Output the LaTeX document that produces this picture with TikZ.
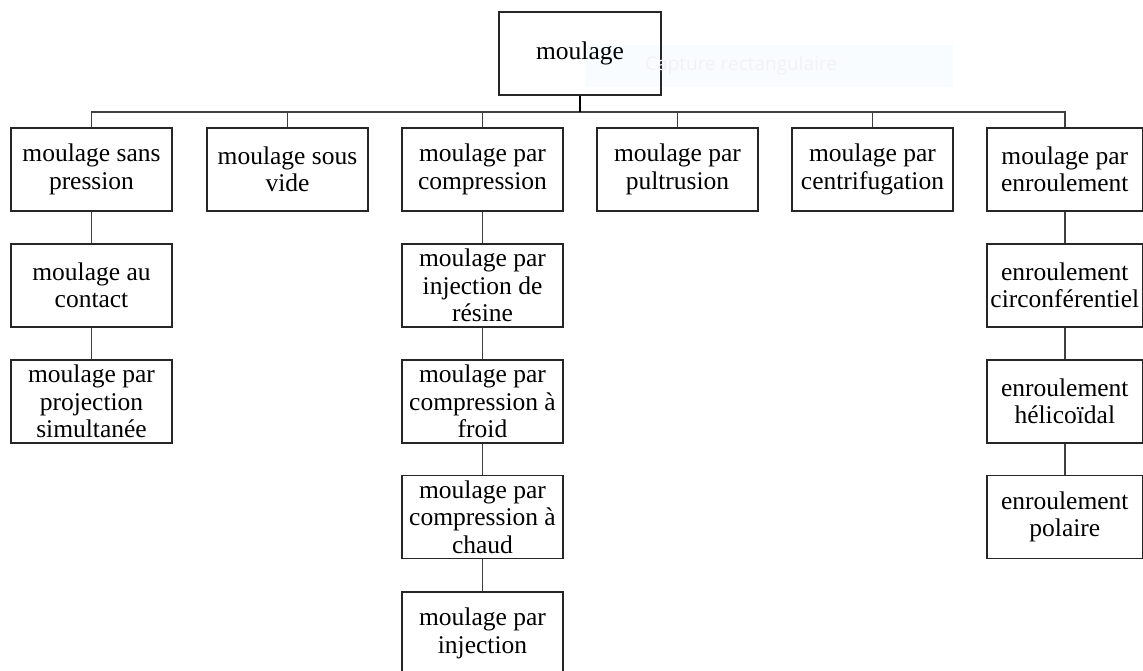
\documentclass[tikz,border=0pt]{standalone}
\usepackage{fontspec}
\setmainfont{Liberation Serif}
\newfontfamily\uifont{Open Sans}
\begin{document}
\begin{tikzpicture}[x=1pt,y=-1pt,
  box/.style={draw=black!85, line width=1.6pt, fill=white, minimum width=161pt, minimum height=83pt,
    inner sep=0pt, align=center, font=\fontsize{25.5}{27.5}\selectfont},
  link/.style={draw=black!75, line width=1.4pt},
  stem/.style={draw=black, line width=2.8pt}]
\clip (0,0) rectangle (1143,671);
\fill[white] (0,0) rectangle (1143,671);
% root
\node[box, minimum width=162pt] (root) at (580,53.5) {moulage};
\coordinate (bus) at (580,112);
% level 1
\node[box] (c1) at (91.5,169.5) {moulage sans\\pression};
\node[box] (c2) at (287.5,169.5) {moulage sous\\vide};
\node[box] (c3) at (482.5,169.5) {moulage par\\compression};
\node[box] (c4) at (677.5,169.5) {moulage par\\pultrusion};
\node[box] (c5) at (872.5,169.5) {moulage par\\centrifugation};
\node[box, minimum width=155.5pt] (c6) at (1064.8,169.5) {moulage par\\enroulement};
% column 1
\node[box] (c1a) at (91.5,285.5) {moulage au\\contact};
\node[box] (c1b) at (91.5,401.5) {moulage par\\projection\\simultanée};
% column 3
\node[box] (c3a) at (482.5,285.5) {moulage par\\injection de\\résine};
\node[box] (c3b) at (482.5,401.5) {moulage par\\compression à\\froid};
\node[box] (c3c) at (482.5,517) {moulage par\\compression à\\chaud};
\node[box] (c3d) at (482.5,633.5) {moulage par\\injection};
% column 6
\node[box, minimum width=155.5pt] (c6a) at (1064.8,285.5) {enroulement\\circonférentiel};
\node[box, minimum width=155.5pt] (c6b) at (1064.8,401.5) {enroulement\\hélicoïdal};
\node[box, minimum width=155.5pt] (c6c) at (1064.8,517) {enroulement\\polaire};
% connectors
\draw[link] (c1.north) |- (bus);
\draw[link] (c2.north) |- (bus);
\draw[link] (c3.north) |- (bus);
\draw[link] (c4.north) |- (bus);
\draw[link] (c5.north) |- (bus);
\draw[link] (c6.north) |- (bus);
\draw[stem] (root.south) -- (bus);
\draw[link] (c1.south) -- (c1a.north);
\draw[link] (c1a.south) -- (c1b.north);
\draw[link] (c3.south) -- (c3a.north);
\draw[link] (c3a.south) -- (c3b.north);
\draw[link] (c3b.south) -- (c3c.north);
\draw[link] (c3c.south) -- (c3d.north);
\draw[link] (c6.south) -- (c6a.north);
\draw[link] (c6a.south) -- (c6b.north);
\draw[link] (c6b.south) -- (c6c.north);
% faint screen-capture overlay
\node[fill=blue!40!cyan, fill opacity=0.025, minimum width=367pt, minimum height=42pt, inner sep=0pt] (overlay) at (769.5,66) {};
\node[text=black!5, font=\uifont\fontsize{19}{22}\selectfont, anchor=west, inner sep=0pt] (cap) at (645,66) {Capture rectangulaire};
\end{tikzpicture}
\end{document}
